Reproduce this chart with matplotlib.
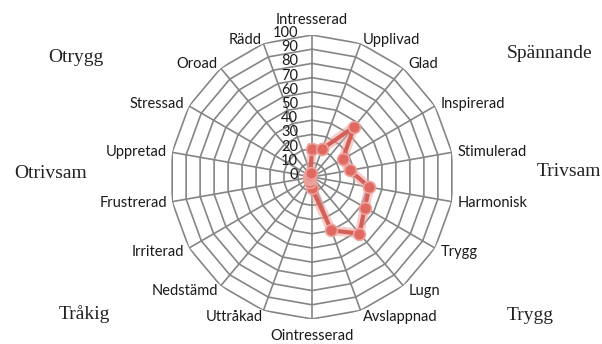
import numpy as np
import matplotlib.pyplot as plt

# Feelings around the radar, clockwise from the top
categories = ['Intresserad', 'Upplivad', 'Glad', 'Inspirerad', 'Stimulerad',
              'Harmonisk', 'Trygg', 'Lugn', 'Avslappnad', 'Ointresserad',
              'Uttråkad', 'Nedstämd', 'Irriterad', 'Frustrerad', 'Uppretad',
              'Stressad', 'Oroad', 'Rädd']
values = [20, 21, 46, 25, 27, 41, 43, 52, 40, 8, 4, 2, 2, 2, 2, 2, 2, 3]
ring_levels = [0, 10, 20, 30, 40, 50, 60, 70, 80, 90, 100]

# Quadrant words placed in the figure corners
corner_words = ['Otrygg', 'Spännande', 'Otrivsam', 'Trivsam', 'Tråkig', 'Trygg']
corner_xy = [(76, 58), (550, 54), (51, 173), (569, 172), (84, 314), (530, 315)]

# pixel nudges for each category label (dx, dy, ha)
label_offsets = [(0, 15, 'center'), (2, 4, 'left'), (5, 4, 'left'), (6, 2, 'left'),
                 (6, 0, 'left'), (6, -1, 'left'), (6, -4, 'left'), (5, -5, 'left'),
                 (2, -7, 'left'), (0, -17, 'center'), (-1, -7, 'right'),
                 (-3, -5, 'right'), (-5, -4, 'right'), (-5, -1, 'right'),
                 (-5, 0, 'right'), (-5, 2, 'right'), (-3, 4, 'right'), (-2, 4, 'right')]

W, H = 602, 344
fig = plt.figure(figsize=(W / 100, H / 100), dpi=100)
cx, cy, rx, ry = 312, 177, 143, 142
ax = fig.add_axes([(cx - rx) / W, 1 - (cy + ry) / H, 2 * rx / W, 2 * ry / H],
                  projection='polar')
ax.set_theta_zero_location('N')
ax.set_theta_direction(-1)
ax.set_ylim(0, 100)
ax.grid(False)
ax.set_xticks([])
ax.set_yticks([])
ax.spines['polar'].set_visible(False)
ax.patch.set_alpha(0)

n = len(categories)
theta = np.arange(n) * 2 * np.pi / n
theta_closed = np.append(theta, theta[0])

grid_col = '#858585'
for r in ring_levels[1:]:
    ax.plot(theta_closed, [r] * (n + 1), color=grid_col, lw=1.2, zorder=1)
for t in theta:
    ax.plot([t, t], [0, 100], color=grid_col, lw=1.2, zorder=1)

# data polygon with a soft glow underneath
vals_closed = values + values[:1]
ax.plot(theta_closed, vals_closed, color='#eba7a1', lw=7, alpha=0.55, zorder=3,
        solid_joinstyle='round')
ax.plot(theta_closed, vals_closed, color='#d65f57', lw=3, zorder=4,
        solid_joinstyle='round')
ax.plot(theta, values, 'o', color='#e06a62', ms=8.5, mec='#eda39d', mew=1.2, zorder=5)

font = 'Lato'
for t, name, (dx, dy, ha) in zip(theta, categories, label_offsets):
    ax.annotate(name, (t, 100), xytext=(dx, dy), textcoords='offset pixels',
                ha=ha, va='center', fontsize=10.5, family=font, color='#1a1a1a',
                annotation_clip=False)

for r in ring_levels:
    ax.annotate(str(r), (0, r), xytext=(-14, 2), textcoords='offset pixels',
                ha='right', va='center', fontsize=10.5, family=font, color='#1a1a1a',
                annotation_clip=False)

for word, (x, y) in zip(corner_words, corner_xy):
    fig.text(x / W, 1 - y / H, word, ha='center', va='center',
             fontsize=14, family='Liberation Serif', color='#222222')

fig.savefig('out.png', dpi=100)
